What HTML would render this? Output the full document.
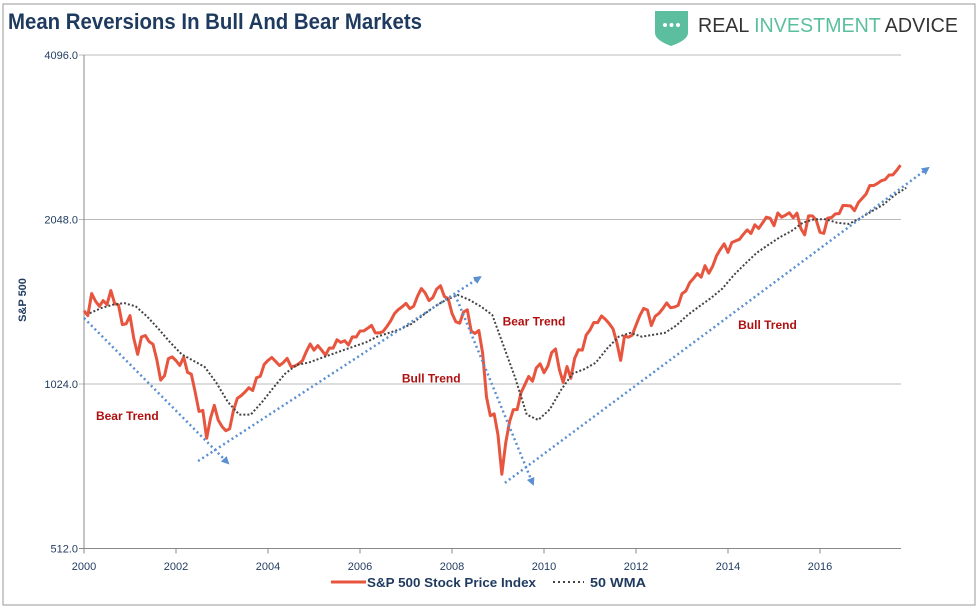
<!DOCTYPE html>
<html><head><meta charset="utf-8"><style>
body{margin:0;background:#fff;width:979px;height:610px;overflow:hidden;font-family:"Liberation Sans",sans-serif}
</style></head><body>
<svg id="c" width="979" height="610" xmlns="http://www.w3.org/2000/svg">
<rect x="3" y="4" width="972" height="601" fill="#fff" stroke="#999" stroke-width="1"/>
<text x="8" y="29" font-size="22" font-weight="bold" fill="#1f3a5f" textLength="414" lengthAdjust="spacingAndGlyphs">Mean Reversions In Bull And Bear Markets</text>
<g>
<path d="M655,11 L688,11 L688,33 Q688,40 671,46 Q655,40 655,33 Z" fill="#5bbf9f"/>
<circle cx="665" cy="25" r="2" fill="#fff"/><circle cx="671.5" cy="25" r="2" fill="#fff"/><circle cx="678" cy="25" r="2" fill="#fff"/>
<text x="698" y="32" font-size="20" textLength="260" lengthAdjust="spacingAndGlyphs"><tspan fill="#333">REAL </tspan><tspan fill="#5bbf9f">INVESTMENT</tspan><tspan fill="#333"> ADVICE</tspan></text>
</g>
<g id="axes"></g>
<g id="marks"></g>
<g>
<line x1="331" y1="582" x2="366" y2="582" stroke="#e8553f" stroke-width="3"/>
<text x="367" y="587" font-size="13" font-weight="bold" fill="#1f3a5f" textLength="169" lengthAdjust="spacingAndGlyphs">S&amp;P 500 Stock Price Index</text>
<line x1="553" y1="582" x2="584" y2="582" stroke="#444" stroke-width="2" stroke-dasharray="2,3"/>
<text x="590" y="587" font-size="13" font-weight="bold" fill="#1f3a5f" textLength="56" lengthAdjust="spacingAndGlyphs">50 WMA</text>
</g>
</svg>
<script>
const yTicks=[4096,2048,1024,512];
const xTicks=[2000,2002,2004,2006,2008,2010,2012,2014,2016];
const priceStart=2000;
const priceMonthly=[1394,1366,1499,1452,1421,1455,1431,1518,1437,1429,1315,1320,
1366,1240,1160,1249,1256,1224,1211,1134,1041,1060,1139,1148,
1130,1107,1147,1076,1067,990,912,916,815,886,936,880,
856,841,848,917,964,975,990,1008,996,1051,1058,1112,
1131,1145,1126,1107,1121,1141,1102,1104,1115,1130,1174,1212,
1181,1204,1181,1157,1192,1191,1234,1220,1229,1207,1249,1248,
1280,1281,1295,1311,1270,1270,1277,1304,1336,1378,1401,1418,
1438,1407,1421,1482,1531,1503,1455,1474,1527,1549,1481,1468,
1379,1331,1323,1386,1400,1280,1267,1283,1165,969,896,903,
826,700,798,873,919,919,987,1021,1057,1036,1096,1115,
1074,1104,1169,1187,1089,1031,1102,1049,1141,1183,1181,1258,
1286,1327,1326,1364,1345,1321,1292,1219,1131,1253,1247,1258,
1312,1366,1408,1398,1310,1362,1379,1407,1441,1412,1416,1426,
1498,1515,1569,1598,1631,1606,1686,1633,1682,1757,1806,1848,
1783,1859,1872,1884,1924,1960,1931,2003,1972,2018,2068,2059,
1995,2105,2068,2086,2107,2063,2104,1972,1920,2079,2080,2044,
1940,1932,2060,2065,2097,2099,2174,2171,2168,2126,2199,2239,
2279,2364,2363,2384,2412,2423,2470,2472,2519,2575];
const wmaQuarterly=[1380,1410,1430,1440,1420,1360,1290,1220,1160,1130,1100,1030,950,900,900,950,
1010,1070,1110,1120,1140,1160,1180,1200,1220,1250,1270,1290,1320,1370,1420,1460,
1490,1460,1420,1370,1200,1050,900,880,920,1000,1070,1090,1120,1190,1250,1270,
1250,1260,1270,1310,1370,1420,1470,1530,1620,1700,1780,1840,1900,1950,2020,2050,
2050,2020,2010,2060,2120,2180,2270,2340];
const trendFrom=[[2000,1352],[2002.48,740],[2008.07,1490],[2009.15,675]];
const trendTo=[[2003.13,734],[2008.61,1606],[2009.76,672],[2018.35,2544]];
const trendLabels=["Bear Trend","Bull Trend","Bear Trend","Bull Trend"];
const labelPos=[[2000.26,880],[2006.91,1030],[2009.1,1310],[2014.22,1290]];

const NS="http://www.w3.org/2000/svg";
const X0=84,PX=46,Y0=55,PD=164.5;
const sx=t=>X0+(t-2000)*PX;
const sy=v=>Y0+Math.log2(4096/v)*PD;
function mk(tag,attrs,parent){const e=document.createElementNS(NS,tag);for(const k in attrs)e.setAttribute(k,attrs[k]);parent.appendChild(e);return e;}
const axes=document.getElementById('axes'),marks=document.getElementById('marks');
yTicks.forEach(v=>{
 const l=mk('line',{x1:X0-5,x2:901,y1:sy(v),y2:sy(v),stroke:v===512?'#888':'#bbb','stroke-width':1},axes);
 
 
 const t=mk('text',{x:X0-6,y:sy(v)+4,'text-anchor':'end','font-size':11,fill:'#1f3a5f'},axes);
 t.textContent=v.toFixed(1);
 
 
});
const ya=mk('line',{x1:X0,x2:X0,y1:Y0,y2:sy(512),stroke:'#888'},axes);


xTicks.forEach(y=>{
 const tk=mk('line',{x1:sx(y),x2:sx(y),y1:sy(512),y2:sy(512)+5,stroke:'#888'},axes);
 
 
 const t=mk('text',{x:sx(y),y:570,'text-anchor':'middle','font-size':11,fill:'#1f3a5f'},axes);
 t.textContent=y;
 
 
});
const yt=mk('text',{x:0,y:0,transform:'translate(26,300) rotate(-90)','text-anchor':'middle','font-size':11,'font-weight':'bold',fill:'#1f3a5f'},axes);
yt.textContent='S&P 500';



const pp=priceMonthly.map((v,i)=>sx(priceStart+i/12)+','+sy(v)).join(' ');
const pl=mk('polyline',{points:pp,fill:'none',stroke:'#e8553f','stroke-width':3,'stroke-linejoin':'round'},marks);


const wp=wmaQuarterly.map((v,i)=>sx(priceStart+i/4+0.125)+','+sy(v)).join(' ');
const wl=mk('polyline',{points:wp,fill:'none',stroke:'#444','stroke-width':2,'stroke-dasharray':'2,2'},marks);



const defs=mk('defs',{},marks);
const m=mk('marker',{id:'ah',markerWidth:8,markerHeight:8,refX:6,refY:4,orient:'auto',markerUnits:'userSpaceOnUse'},defs);
mk('path',{d:'M0,0 L8,4 L0,8 Z',fill:'#5b8fd0'},m);
trendFrom.forEach((f,i)=>{
 const t=trendTo[i];
 const a=mk('line',{x1:sx(f[0]),y1:sy(f[1]),x2:sx(t[0]),y2:sy(t[1]),stroke:'#5b8fd0','stroke-width':2.5,'stroke-dasharray':'2,3','marker-end':'url(#ah)'},marks);
 
 
 const lb=mk('text',{x:sx(labelPos[i][0]),y:sy(labelPos[i][1]),'font-size':12,'font-weight':'bold',fill:'#b01010'},marks);
 lb.textContent=trendLabels[i];
 
 
});
</script>
</body></html>
